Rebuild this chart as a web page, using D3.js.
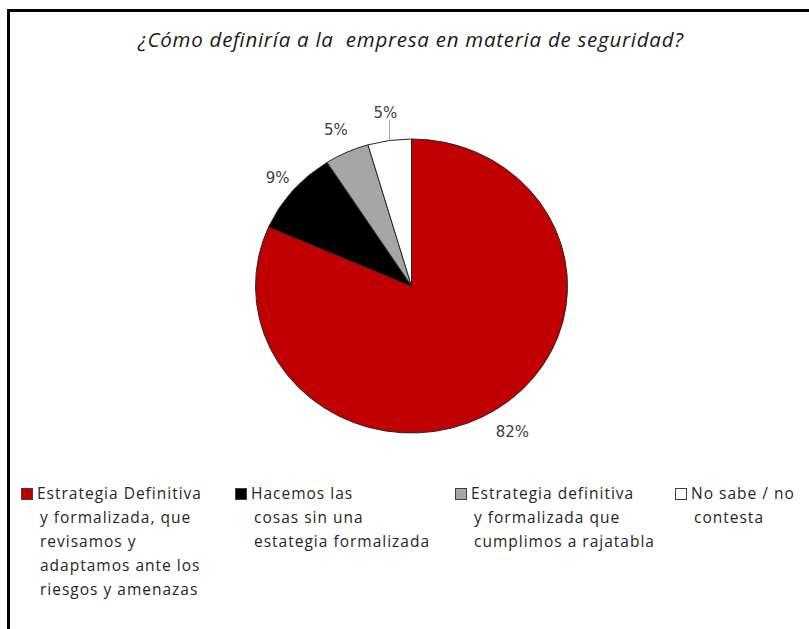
<!DOCTYPE html>
<html>
<head>
<meta charset="utf-8">
<script src="https://cdn.jsdelivr.net/npm/d3@7"></script>
<style>
  body { margin: 0; background: #fff; }
  svg { display: block; }
</style>
</head>
<body>
<div class="chart"></div>
<script>
// values, labels rounded like the original
const categories = [
  "Estrategia Definitiva|y formalizada, que|revisamos y|adaptamos ante los|riesgos y amenazas",
  "Hacemos las|cosas sin una|estategia formalizada",
  "Estrategia definitiva|y formalizada que|cumplimos a rajatabla",
  "No sabe / no|contesta"
];
const values = [81.6, 9.3, 4.6, 4.5];
const sliceColors = ["#c00000", "#000000", "#a6a6a6", "#ffffff"];
const title = "¿Cómo definiría a la  empresa en materia de seguridad?";

const width = 809,
    height = 629,
    cx = 411.5,
    cy = 286,
    radius = 147,
    stretchX = 156 / 147, // pie is a bit wider than tall in the source
    labelRadius = [174, 166, 172, 175],
    legendX = [21, 235, 455, 675],
    legendY = 488;

const svg = d3.select(".chart").append("svg")
    .attr("width", width)
    .attr("height", height);

// frame: only left and top edges show
svg.append("path")
    .attr("d", "M8.5,629V10.5H809")
    .attr("fill", "none")
    .attr("stroke", "#000")
    .attr("stroke-width", 3);

svg.append("text")
    .attr("x", 138)
    .attr("y", 47)
    .attr("textLength", 545)
    .attr("lengthAdjust", "spacing")
    .style("white-space", "pre")
    .style("font-family", "'Open Sans', sans-serif")
    .style("font-style", "italic")
    .style("font-size", "20.5px")
    .style("fill", "#1a1a1a")
    .text(title);

const pie = d3.pie().sort(null).value(d => d);
const arcs = pie(values);

const arc = d3.arc().innerRadius(0).outerRadius(radius);

const g = svg.append("g")
    .attr("transform", `translate(${cx},${cy}) scale(${stretchX},1)`);

g.selectAll("path")
  .data(arcs)
  .enter().append("path")
    .attr("d", arc)
    .attr("fill", (d, i) => sliceColors[i])
    .attr("stroke", "#262626")
    .attr("stroke-width", 1)
    .attr("vector-effect", "non-scaling-stroke");

// labels placed outside, on the stretched pie
const midAngle = d => (d.startAngle + d.endAngle) / 2;
const pos = (d, r) => [cx + Math.sin(midAngle(d)) * r * stretchX, cy - Math.cos(midAngle(d)) * r];

// leader line only for the last (thin) slice
const last = arcs[arcs.length - 1];
const edge = pos(last, radius);
const lab = pos(last, labelRadius[arcs.length - 1]);
svg.append("line")
    .attr("x1", edge[0]).attr("y1", edge[1])
    .attr("x2", edge[0]).attr("y2", lab[1] + 7)
    .attr("stroke", "#a6a6a6")
    .attr("stroke-width", 1);

svg.selectAll("text.pct")
  .data(arcs)
  .enter().append("text")
    .attr("class", "pct")
    .attr("x", (d, i) => pos(d, labelRadius[i])[0])
    .attr("y", (d, i) => pos(d, labelRadius[i])[1])
    .attr("dy", "0.35em")
    .attr("text-anchor", "middle")
    .style("font-family", "'DejaVu Sans', sans-serif")
    .style("font-size", "15px")
    .style("fill", "#404040")
    .text(d => Math.round(d.data) + "%");

// legend
const item = svg.selectAll("g.leg")
  .data(categories)
  .enter().append("g")
    .attr("class", "leg")
    .attr("transform", (d, i) => `translate(${legendX[i]},${legendY})`);

item.append("rect")
    .attr("x", 0.5).attr("y", 0.5)
    .attr("width", 11).attr("height", 11)
    .attr("fill", (d, i) => sliceColors[i])
    .attr("stroke", "#404040")
    .attr("stroke-width", 1);

item.append("text")
    .style("font-family", "'Open Sans', sans-serif")
    .style("font-size", "15.5px")
    .style("letter-spacing", "1px")
    .style("fill", "#262626")
  .selectAll("tspan")
  .data(d => d.split("|"))
  .enter().append("tspan")
    .attr("x", (d, i) => i === 0 ? 16 : 19)
    .attr("y", (d, i) => 11 + i * 24)
    .text(d => d);
</script>
</body>
</html>
